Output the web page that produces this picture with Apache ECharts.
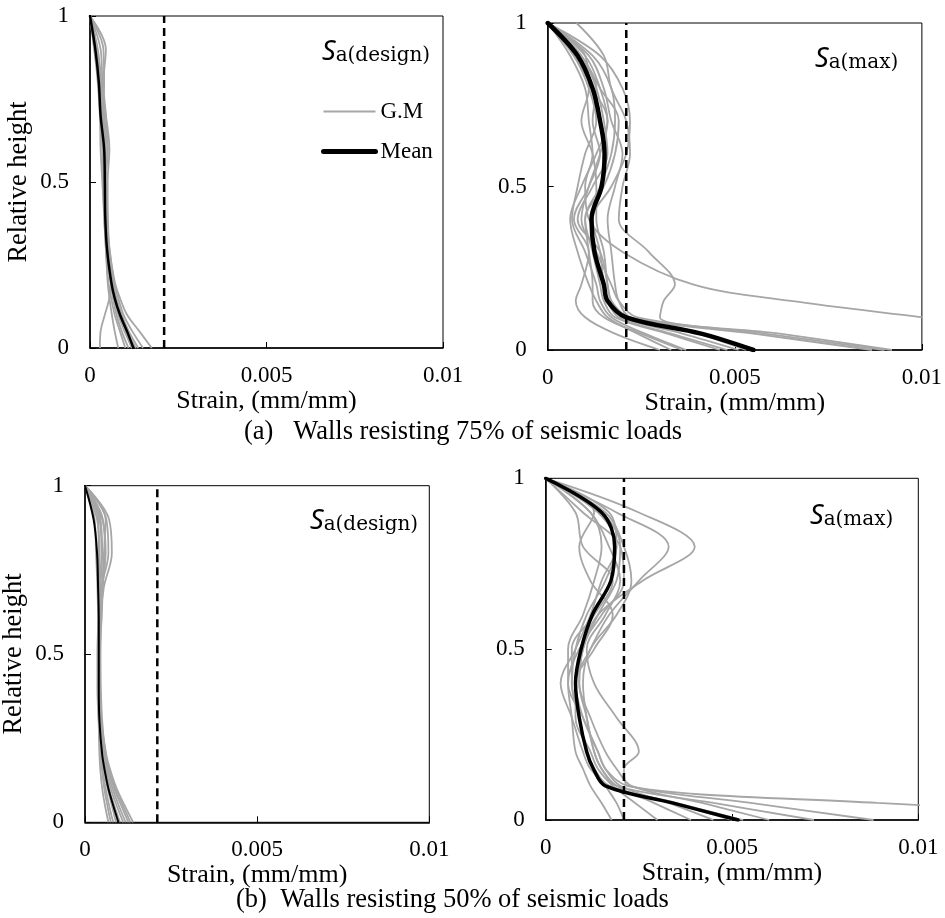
<!DOCTYPE html>
<html>
<head>
<meta charset="utf-8">
<script src="https://cdn.jsdelivr.net/npm/echarts@6/dist/echarts.min.js"></script>
<style>
  html, body { margin: 0; padding: 0; background: #fff; }
  #chart { width: 945px; height: 918px; }
</style>
</head>
<body>
<div id="chart"></div>
<script>
// Relative height levels at which every strain profile is sampled (bottom to top)
const heights = [0, 0.05, 0.1, 0.15, 0.2, 0.3, 0.4, 0.5, 0.6, 0.7, 0.8, 0.9, 1];

// Axis ticks
const strainTicks = [0, 0.005, 0.01];
const heightTicks = [0, 0.5, 1];

// Concrete strain limit (dashed line)
const strainLimit = 0.0021;

// (a) Walls resisting 75% of seismic loads, Sa(design)
const designA_gm = [
  [0.00028, 0.0003, 0.00042, 0.00055, 0.0006, 0.0005, 0.00045, 0.0004, 0.0004, 0.00035, 0.0003, 0.0002, 0],
  [0.0008, 0.0007, 0.00062, 0.00055, 0.0005, 0.00045, 0.0004, 0.00038, 0.00035, 0.0003, 0.00025, 0.00015, 0],
  [0.00109, 0.0009, 0.00075, 0.00065, 0.00058, 0.00048, 0.00045, 0.00042, 0.00045, 0.0004, 0.0003, 0.0002, 0],
  [0.00118, 0.001, 0.00082, 0.0007, 0.0006, 0.0005, 0.00045, 0.00045, 0.0005, 0.0004, 0.00035, 0.0003, 0],
  [0.00137, 0.0011, 0.0009, 0.00075, 0.00065, 0.00052, 0.00048, 0.00042, 0.00038, 0.00032, 0.00025, 0.00012, 0],
  [0.00175, 0.0014, 0.00105, 0.00085, 0.0007, 0.00055, 0.00046, 0.00044, 0.0005, 0.00045, 0.00038, 0.00045, 0],
  [0.0013, 0.00105, 0.00085, 0.0007, 0.00062, 0.0005, 0.0005, 0.0005, 0.00055, 0.00045, 0.0003, 0.0002, 0],
  [0.001, 0.00085, 0.0007, 0.0006, 0.00052, 0.00045, 0.0004, 0.00035, 0.0003, 0.00028, 0.00022, 0.00012, 0],
  [0.0012, 0.00098, 0.0008, 0.00068, 0.0006, 0.00052, 0.00047, 0.00043, 0.0004, 0.00036, 0.0004, 0.00038, 0],
  [0.0015, 0.0012, 0.00095, 0.0008, 0.00068, 0.00055, 0.0005, 0.00046, 0.00042, 0.00038, 0.00032, 0.00022, 0]
];
const designA_mean = [0.00123, 0.00105, 0.00085, 0.0007, 0.0006, 0.00048, 0.00043, 0.00042, 0.0004, 0.0003, 0.00025, 0.00015, 0];

// (a) Walls resisting 75% of seismic loads, Sa(max)
const maxA_gm = [
  [0.0092, 0.0062, 0.0030, 0.0031, 0.0034, 0.0027, 0.0019, 0.0020, 0.0022, 0.0021, 0.0017, 0.0015, 0.00077],
  [0.0160, 0.0135, 0.0100, 0.0065, 0.0039, 0.0020, 0.0011, 0.0010, 0.0012, 0.0011, 0.0010, 0.0006, 0],
  [0.00867, 0.0055, 0.0022, 0.0017, 0.0016, 0.0014, 0.0008, 0.0012, 0.0016, 0.0015, 0.0013, 0.0009, 0],
  [0.0030, 0.0018, 0.0010, 0.00075, 0.0009, 0.0011, 0.0007, 0.0011, 0.0014, 0.0012, 0.0013, 0.0008, 0],
  [0.0033, 0.0024, 0.0016, 0.0013, 0.0011, 0.0008, 0.0006, 0.0009, 0.0013, 0.0016, 0.0014, 0.0010, 0],
  [0.0037, 0.0026, 0.0017, 0.0014, 0.0013, 0.0010, 0.00065, 0.0008, 0.0010, 0.0013, 0.0011, 0.0007, 0],
  [0.0046, 0.0032, 0.0018, 0.0015, 0.0014, 0.0012, 0.0010, 0.0015, 0.0018, 0.0019, 0.0014, 0.0009, 0],
  [0.0051, 0.0036, 0.0020, 0.0017, 0.0016, 0.0015, 0.0013, 0.0013, 0.0012, 0.0009, 0.0011, 0.0010, 0],
  [0.0053, 0.0040, 0.0022, 0.0019, 0.0018, 0.0017, 0.0016, 0.0018, 0.0020, 0.0017, 0.0015, 0.0011, 0],
  [0.0090, 0.0058, 0.0024, 0.0019, 0.0017, 0.0013, 0.0009, 0.0011, 0.0014, 0.0016, 0.0012, 0.0007, 0],
  [0.0036, 0.0025, 0.0015, 0.0012, 0.0012, 0.0011, 0.0010, 0.0014, 0.0017, 0.0018, 0.0017, 0.0012, 0],
  [0.0048, 0.0033, 0.0019, 0.0016, 0.0015, 0.0014, 0.0012, 0.0017, 0.0021, 0.0022, 0.0020, 0.0014, 0]
];
const maxA_mean = [0.0055, 0.0041, 0.0021, 0.0016, 0.0015, 0.00125, 0.00117, 0.00144, 0.00152, 0.0014, 0.0012, 0.0008, 0];

// (b) Walls resisting 50% of seismic loads, Sa(design)
const designB_gm = [
  [0.00068, 0.00058, 0.0005, 0.00045, 0.00042, 0.0004, 0.0004, 0.0004, 0.00042, 0.00045, 0.0005, 0.00045, 0],
  [0.00082, 0.0007, 0.0006, 0.00052, 0.00046, 0.0004, 0.00038, 0.00038, 0.0004, 0.0004, 0.00042, 0.00035, 0],
  [0.00111, 0.00092, 0.00075, 0.00062, 0.00052, 0.00043, 0.0004, 0.00042, 0.00045, 0.0005, 0.0006, 0.0005, 0],
  [0.00126, 0.00105, 0.00085, 0.0007, 0.00058, 0.00046, 0.00042, 0.00042, 0.00044, 0.00055, 0.00078, 0.0007, 0],
  [0.0014, 0.00115, 0.00092, 0.00075, 0.00062, 0.00048, 0.00043, 0.0004, 0.0004, 0.00042, 0.00048, 0.00042, 0],
  [0.0009, 0.00078, 0.00066, 0.00056, 0.00048, 0.0004, 0.00036, 0.00036, 0.00038, 0.00036, 0.00032, 0.00028, 0],
  [0.00118, 0.00098, 0.0008, 0.00066, 0.00055, 0.00045, 0.00042, 0.00044, 0.00047, 0.0005, 0.00055, 0.0006, 0],
  [0.00102, 0.00085, 0.0007, 0.0006, 0.0005, 0.00042, 0.00039, 0.0004, 0.00043, 0.00048, 0.00068, 0.00062, 0],
  [0.00132, 0.0011, 0.00088, 0.00072, 0.0006, 0.0005, 0.00046, 0.00045, 0.00044, 0.00042, 0.0004, 0.00038, 0],
  [0.00075, 0.00065, 0.00056, 0.0005, 0.00046, 0.00042, 0.0004, 0.00042, 0.00048, 0.00052, 0.00058, 0.00052, 0]
];
const designB_mean = [0.00097, 0.00082, 0.00068, 0.00058, 0.0005, 0.00042, 0.0004, 0.0004, 0.0004, 0.00038, 0.00035, 0.00025, 0];

// (b) Walls resisting 50% of seismic loads, Sa(max)
const maxB_gm = [
  [0.0072, 0.0045, 0.0019, 0.0015, 0.0013, 0.0011, 0.0009, 0.0010, 0.0014, 0.0026, 0.0040, 0.0025, 0],
  [0.0088, 0.0055, 0.0022, 0.0016, 0.0014, 0.0010, 0.0008, 0.0012, 0.0017, 0.0025, 0.0033, 0.0019, 0],
  [0.0180, 0.0089, 0.0022, 0.0021, 0.0025, 0.0019, 0.0013, 0.0011, 0.0016, 0.0020, 0.0017, 0.0012, 0],
  [0.00177, 0.0015, 0.0012, 0.0010, 0.0008, 0.0007, 0.0006, 0.0009, 0.0015, 0.0021, 0.0020, 0.0010, 0],
  [0.0021, 0.0019, 0.0016, 0.0013, 0.0011, 0.0009, 0.0007, 0.0007, 0.0013, 0.0018, 0.0010, 0.0008, 0],
  [0.0030, 0.0024, 0.0018, 0.0014, 0.0012, 0.0008, 0.0008, 0.0013, 0.0018, 0.0012, 0.0009, 0.0013, 0],
  [0.0039, 0.0029, 0.0019, 0.0015, 0.0013, 0.0011, 0.0010, 0.0012, 0.0019, 0.0023, 0.0021, 0.0016, 0],
  [0.0050, 0.0034, 0.0017, 0.0012, 0.0010, 0.0007, 0.0004, 0.0008, 0.0012, 0.0015, 0.0019, 0.0014, 0],
  [0.0053, 0.0035, 0.0017, 0.0013, 0.0011, 0.0009, 0.0007, 0.0008, 0.0011, 0.0016, 0.0019, 0.0017, 0],
  [0.0045, 0.0033, 0.0020, 0.0016, 0.0014, 0.0010, 0.0006, 0.0006, 0.0010, 0.0013, 0.0015, 0.0012, 0],
  [0.0060, 0.0042, 0.0023, 0.0019, 0.0016, 0.0012, 0.0009, 0.0010, 0.0014, 0.0019, 0.0020, 0.0015, 0]
];
const maxB_mean = [0.00516, 0.0034, 0.0016, 0.00128, 0.0011, 0.0009, 0.0008, 0.00095, 0.00125, 0.00175, 0.00185, 0.0015, 0];

const SERIF = '"Liberation Serif", serif';
const GREY = '#a6a6a6';

// Plot areas: top-left, top-right, bottom-left, bottom-right
const grids = [
  { left: 90,    top: 16,    width: 353,   height: 332 },
  { left: 547.7, top: 23,    width: 375.6, height: 327 },
  { left: 85,    top: 485.7, width: 344.3, height: 336.6 },
  { left: 545.7, top: 478.3, width: 372.6, height: 341.7 }
];

const panels = [
  { gm: designA_gm, mean: designA_mean, meanWidth: 2.5, sub: 'a(design)', label: [322, 36], yName: true },
  { gm: maxA_gm,    mean: maxA_mean,    meanWidth: 4.5, sub: 'a(max)',    label: [815, 43], yName: false },
  { gm: designB_gm, mean: designB_mean, meanWidth: 2,   sub: 'a(design)', label: [310, 505], yName: true },
  { gm: maxB_gm,    mean: maxB_mean,    meanWidth: 3.5, sub: 'a(max)',    label: [810, 500], yName: false }
];

const toPoints = row => heights.map((h, i) => [row[i], h]);

const serifText = size => ({ fontFamily: SERIF, fontSize: size, fontWeight: 'normal', color: '#000' });

const xAxes = [], yAxes = [], series = [], titles = [];

panels.forEach((p, k) => {
  xAxes.push({
    type: 'value', gridIndex: k,
    min: strainTicks[0], max: strainTicks[strainTicks.length - 1],
    interval: strainTicks[1] - strainTicks[0],
    name: 'Strain, (mm/mm)', nameLocation: 'middle', nameGap: 31,
    nameTextStyle: serifText(26),
    axisLine: { onZero: false, lineStyle: { color: '#000', width: 1.5 } },
    axisTick: { inside: true, length: 6, lineStyle: { color: '#000' } },
    axisLabel: Object.assign({ margin: 16 }, serifText(23)),
    splitLine: { show: false }
  });
  yAxes.push({
    type: 'value', gridIndex: k,
    min: heightTicks[0], max: heightTicks[heightTicks.length - 1],
    interval: heightTicks[1] - heightTicks[0],
    name: p.yName ? 'Relative height' : '', nameLocation: 'middle', nameGap: 57,
    nameTextStyle: serifText(26.5),
    axisLine: { onZero: false, lineStyle: { color: '#000', width: 1.5 } },
    axisTick: { inside: true, length: 6, lineStyle: { color: '#000' } },
    axisLabel: Object.assign({ margin: 21 }, serifText(23)),
    splitLine: { show: false }
  });

  p.gm.forEach(row => {
    series.push({
      type: 'line', name: 'G.M', xAxisIndex: k, yAxisIndex: k,
      data: toPoints(row), symbol: 'none', smooth: 0.35, silent: true,
      lineStyle: { color: GREY, width: 1.8 }, itemStyle: { color: GREY }
    });
  });
  series.push({
    type: 'line', name: 'Mean', xAxisIndex: k, yAxisIndex: k,
    data: toPoints(p.mean), symbol: 'none', smooth: 0.35, silent: true,
    lineStyle: { color: '#000', width: p.meanWidth, cap: 'round' }, itemStyle: { color: '#000' }
  });
  series.push({
    type: 'line', name: 'Strain limit', xAxisIndex: k, yAxisIndex: k,
    data: [[strainLimit, heightTicks[0]], [strainLimit, heightTicks[heightTicks.length - 1]]],
    symbol: 'none', silent: true,
    lineStyle: { color: '#000', width: 2.5, type: [8, 5] }
  });

  titles.push({
    text: '{s|S}{sub|' + p.sub + '}',
    left: p.label[0], top: p.label[1], padding: 0,
    textStyle: {
      fontWeight: 'normal',
      rich: {
        s:   { fontFamily: '"Noto Sans", sans-serif', fontStyle: 'italic', fontWeight: 'normal', fontSize: 27, color: '#000', lineHeight: 30, verticalAlign: 'bottom' },
        sub: { fontFamily: '"DejaVu Serif", serif', fontWeight: 'normal', fontSize: 20, color: '#000', lineHeight: 14, verticalAlign: 'bottom' }
      }
    }
  });
});

titles.push({
  text: '(a)   Walls resisting 75% of seismic loads',
  left: 244, top: 419, padding: 0,
  textStyle: serifText(26.5)
});
titles.push({
  text: '(b)  Walls resisting 50% of seismic loads',
  left: 236, top: 887, padding: 0,
  textStyle: serifText(26.5)
});

const chart = echarts.init(document.getElementById('chart'));
chart.setOption({
  animation: false,
  backgroundColor: '#fff',
  textStyle: { fontFamily: SERIF },
  title: titles,
  legend: {
    left: 316, top: 95, orient: 'vertical', itemGap: 17,
    itemWidth: 52, itemHeight: 14, selectedMode: false,
    textStyle: serifText(23),
    data: [
      { name: 'G.M', lineStyle: { color: GREY, width: 2 }, itemStyle: { opacity: 0 } },
      { name: 'Mean', lineStyle: { color: '#000', width: 5, cap: 'round' }, itemStyle: { opacity: 0 } }
    ]
  },
  grid: grids.map(g => Object.assign({ show: true, borderColor: '#000', borderWidth: 1, containLabel: false }, g)),
  xAxis: xAxes,
  yAxis: yAxes,
  series: series
});
</script>
</body>
</html>
